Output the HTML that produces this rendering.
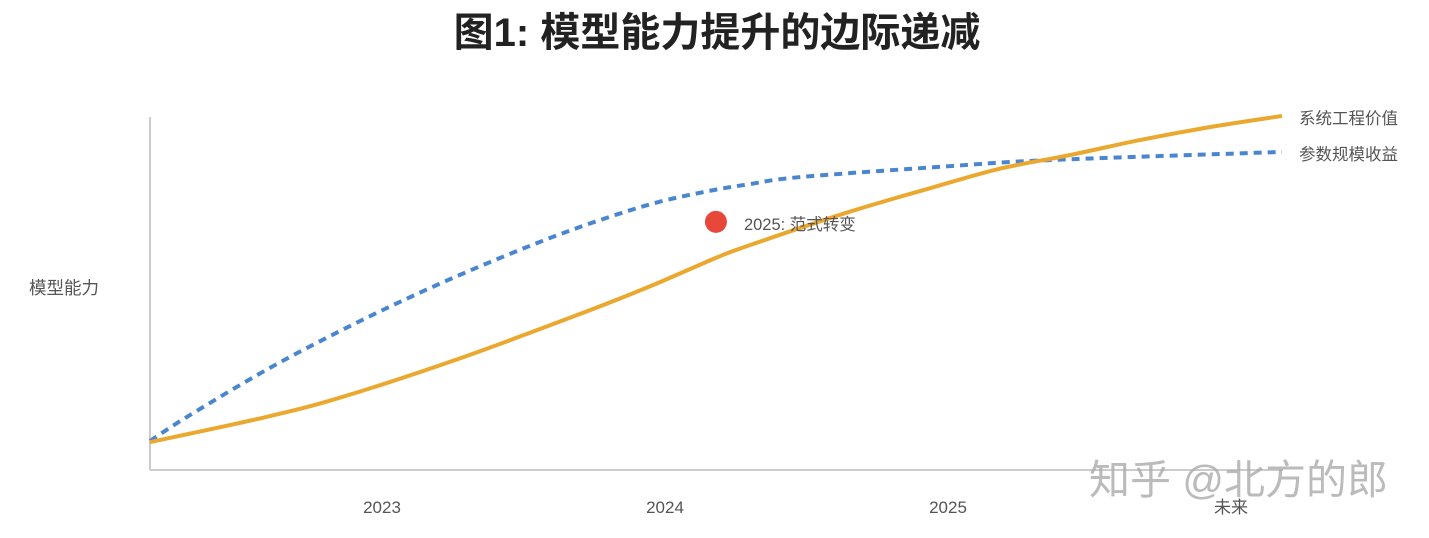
<!DOCTYPE html>
<html><head><meta charset="utf-8"><style>
body{margin:0;background:#fff;width:1429px;height:538px;overflow:hidden;font-family:"Liberation Sans","Noto Sans CJK SC",sans-serif}
svg{display:block}
</style></head><body>
<svg id="chart" width="1429" height="538" xmlns="http://www.w3.org/2000/svg">
<text x="717" y="46" text-anchor="middle" font-size="40" font-weight="bold" fill="#222" font-family="Liberation Sans, Noto Sans CJK SC, sans-serif">图1: 模型能力提升的边际递减</text>
<text x="29" y="294" font-size="17.5" fill="#555" font-family="Liberation Sans, Noto Sans CJK SC, sans-serif">模型能力</text>
<line x1="150" y1="117" x2="150" y2="470" stroke="#ccc" stroke-width="2"/>
<line x1="150" y1="470" x2="1283" y2="470" stroke="#ccc" stroke-width="2"/>
<g id="ticks"></g>
<g id="series"></g>
<text x="1089" y="494" font-size="41" fill="#aaa" fill-opacity="0.8" font-family="Liberation Sans, Noto Sans CJK SC, sans-serif">知乎 @北方的郎</text>
</svg>
<script>
const tickLabels=["2023","2024","2025","未来"];
const tickPositions=[2023,2024,2025,2026];
const orangeT=[2022.18,2022.59,2022.86,2023.26,2023.67,2023.94,2024.18,2024.30,2024.65,2024.94,2025.18,2025.43,2025.68,2025.93,2026.18];
const orangeV=[7.9,15.0,20.7,31.2,43.3,51.8,60.1,63.7,73.1,79.9,85.3,89.2,93.5,97.2,100.3];
const blueT=[2022.18,2022.31,2022.59,2022.86,2023.13,2023.40,2023.67,2023.94,2024.14,2024.30,2024.48,2025.01,2025.36,2026.18];
const blueV=[8.2,15.0,28.3,39.7,50.1,59.5,68.0,75.1,78.8,81.0,83.0,86.1,87.8,90.1];
const markerT=[2024.18];
const markerV=[70.3];
const NS="http://www.w3.org/2000/svg";
function xs(t){return 382+(t-2023)*283;}
function ys(v){return 470-v*3.53;}
function path(T,V){
  const p=T.map((t,i)=>[xs(t),ys(V[i])]);
  let d=`M${p[0][0]},${p[0][1]}`;
  for(let i=0;i<p.length-1;i++){
    const p0=p[i-1]||p[i],p1=p[i],p2=p[i+1],p3=p[i+2]||p2;
    const c1=[p1[0]+(p2[0]-p0[0])/6,p1[1]+(p2[1]-p0[1])/6];
    const c2=[p2[0]-(p3[0]-p1[0])/6,p2[1]-(p3[1]-p1[1])/6];
    d+=` C${c1[0]},${c1[1]} ${c2[0]},${c2[1]} ${p2[0]},${p2[1]}`;
  }
  return d;
}
const ticks=document.getElementById('ticks');
tickLabels.forEach((l,i)=>{
  const t=document.createElementNS(NS,'text');
  
  
  t.setAttribute('x',xs(tickPositions[i]));t.setAttribute('y',513);
  t.setAttribute('text-anchor','middle');t.setAttribute('font-size','17');t.setAttribute('fill','#555');
  t.textContent=l;ticks.appendChild(t);
});
const g=document.getElementById('series');
const b=document.createElementNS(NS,'path');


b.setAttribute('d',path(blueT,blueV));b.setAttribute('fill','none');b.setAttribute('stroke','#4A86D0');
b.setAttribute('stroke-width','4');b.setAttribute('stroke-dasharray','8 6');g.appendChild(b);
const o=document.createElementNS(NS,'path');


o.setAttribute('d',path(orangeT,orangeV));o.setAttribute('fill','none');o.setAttribute('stroke','#EBA82F');
o.setAttribute('stroke-width','4');g.appendChild(o);
const c=document.createElementNS(NS,'circle');


c.setAttribute('cx',xs(markerT[0]));c.setAttribute('cy',ys(markerV[0]));c.setAttribute('r','11');c.setAttribute('fill','#E8483A');g.appendChild(c);
const ml=document.createElementNS(NS,'text');


ml.setAttribute('x',xs(markerT[0])+28);ml.setAttribute('y',ys(markerV[0])+8);ml.setAttribute('font-size','16.5');ml.setAttribute('fill','#555');
ml.textContent='2025: 范式转变';g.appendChild(ml);
const l1=document.createElementNS(NS,'text');


l1.setAttribute('x',1299);l1.setAttribute('y',ys(orangeV[orangeV.length-1])+8);l1.setAttribute('font-size','16.5');l1.setAttribute('fill','#555');
l1.textContent='系统工程价值';g.appendChild(l1);
const l2=document.createElementNS(NS,'text');


l2.setAttribute('x',1299);l2.setAttribute('y',ys(blueV[blueV.length-1])+8);l2.setAttribute('font-size','16.5');l2.setAttribute('fill','#555');
l2.textContent='参数规模收益';g.appendChild(l2);
</script>
</body></html>
